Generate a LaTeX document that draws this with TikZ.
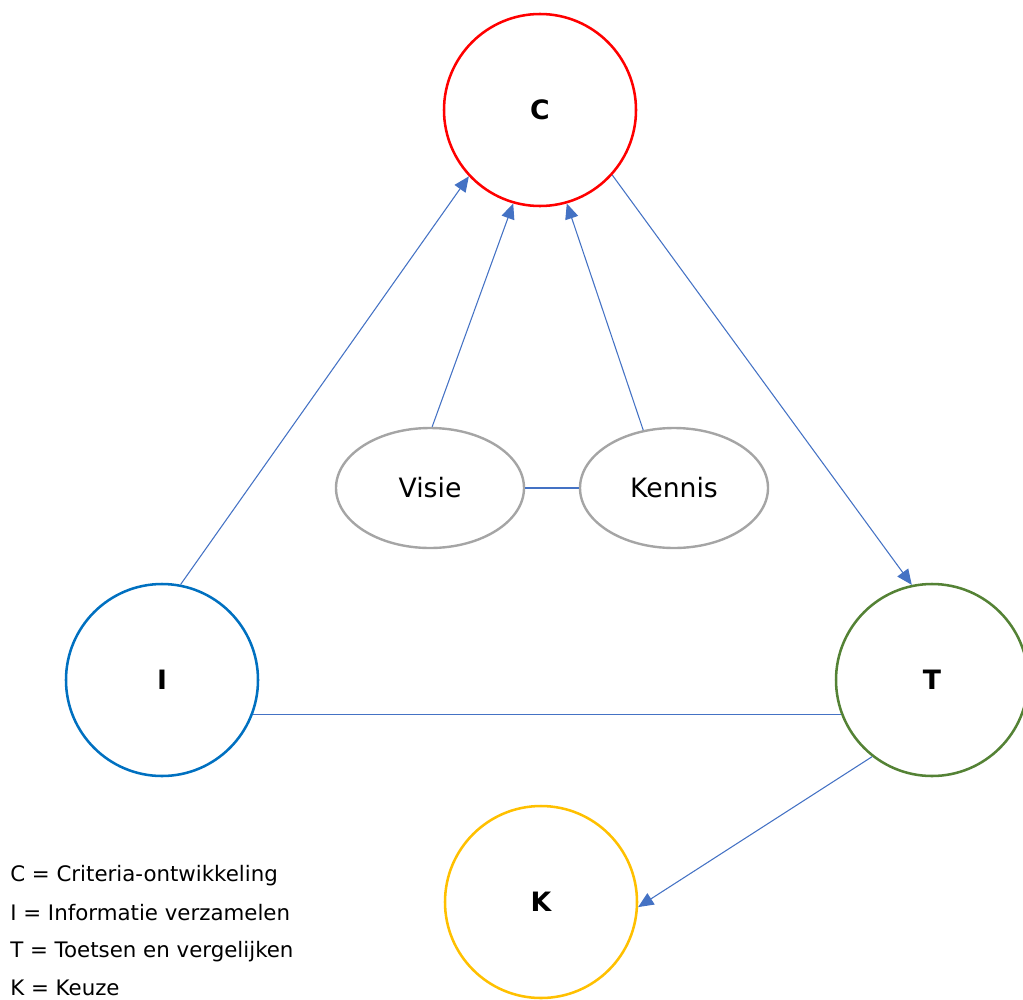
\documentclass[tikz,border=0pt]{standalone}
\usepackage{fontspec}
\setmainfont{DejaVu Sans}
\usetikzlibrary{arrows.meta,shapes.geometric}
\definecolor{cred}{RGB}{255,0,0}
\definecolor{cblue}{RGB}{0,112,192}
\definecolor{cgreen}{RGB}{84,130,53}
\definecolor{cyellow}{RGB}{255,192,0}
\definecolor{cgray}{RGB}{165,165,165}
\definecolor{clink}{RGB}{68,114,196}
\tikzset{
  phase/.style={circle, draw, line width=1.9pt, minimum size=144pt, inner sep=0pt,
    font=\fontsize{20}{24}\selectfont\bfseries},
  source/.style={ellipse, draw=cgray, line width=1.8pt, minimum width=141pt,
    minimum height=90pt, inner sep=0pt, font=\fontsize{20}{24}\selectfont},
  link/.style={draw=clink, line width=0.8pt},
  flow/.style={link, -{Triangle[length=11.5pt,width=10pt]}},
  legend/.style={anchor=base west, inner sep=0pt, font=\fontsize{16}{19}\selectfont}
}
\begin{document}
\begin{tikzpicture}[x=0.75pt,y=-0.75pt]
\useasboundingbox (0,0) rectangle (1023,999);
\clip (0,0) rectangle (1023,999);

% phases of the decision cycle
\node[phase, draw=cred]    (C) at (540,110) {C};
\node[phase, draw=cblue]   (I) at (162,680) {I};
\node[phase, draw=cgreen]  (T) at (932,680) {T};
\node[phase, draw=cyellow] (K) at (541,902) {K};

% inputs to the criteria
\node[source] (V) at (430,488) {Visie};
\node[source] (N) at (674,488) {Kennis};

% connections
\draw[flow] (I.79) -- (C.223);
\draw[flow] (V.88) -- (C.254);
\draw[flow] (N.118) -- (C.286);
\draw[flow] (C.318) -- (T.102);
\draw[link] (V.east) -- (N.west);
\draw[link] (I.-21.4) -- (T.201.4);
\draw[flow] (T.232) -- (K.-3);

% legend
\node[legend] (L1) at (10,881) {C = Criteria-ontwikkeling};
\node[legend] (L2) at (10,920) {I = Informatie verzamelen};
\node[legend] (L3) at (10,957) {T = Toetsen en vergelijken};
\node[legend] (L4) at (10,995) {K = Keuze};
\end{tikzpicture}
\end{document}
